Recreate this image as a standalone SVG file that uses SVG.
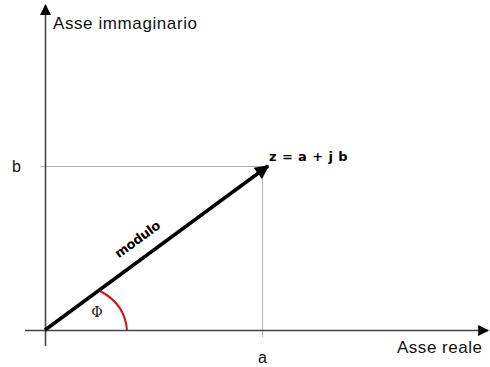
<svg xmlns="http://www.w3.org/2000/svg" width="490" height="367" viewBox="0 0 490 367">
<style>
.t{font-family:"Liberation Sans",Arial,sans-serif;fill:#111}
.b{font-family:"DejaVu Sans",Verdana,sans-serif;font-weight:bold;fill:#000}
.axis{stroke:#444;stroke-width:1.6;fill:none}
.guide{stroke:#b0b0b0;stroke-width:1;fill:none}
</style>
<defs>
<marker id="ah" viewBox="0 0 10 10" refX="9" refY="5" markerWidth="13" markerHeight="11" markerUnits="userSpaceOnUse" orient="auto"><path d="M0,0 L10,5 L0,10 Z" fill="#000"/></marker>
<marker id="vh" viewBox="0 0 10 10" refX="9" refY="5" markerWidth="16" markerHeight="14" markerUnits="userSpaceOnUse" orient="auto"><path d="M0,0 L10,5 L0,10 Z" fill="#000"/></marker>
</defs>
<rect width="490" height="367" fill="#fff"/>
<g id="connectors">
<line class="guide" x1="40" y1="166.5" x2="264" y2="166.5"/>
<line class="guide" x1="262.5" y1="170" x2="262.5" y2="337"/>
<line id="x-axis" class="axis" x1="25" y1="330.5" x2="488" y2="330.5" marker-end="url(#ah)"/>
<line id="y-axis" class="axis" x1="45.5" y1="346" x2="45.5" y2="5" marker-end="url(#ah)"/>
<line id="vector" x1="45" y1="330" x2="268" y2="166" stroke="#000" stroke-width="3.5" marker-end="url(#vh)"/>
<path id="angle" d="M100,291 Q125,304 127,330" fill="none" stroke="#d0141c" stroke-width="2"/>
</g>
<g id="labels">
<text class="t" x="53" y="29" font-size="17" textLength="144">Asse immaginario</text>
<text class="t" x="397" y="353" font-size="17" textLength="85">Asse reale</text>
<text class="t" x="258" y="363" font-size="16">a</text>
<text class="t" x="12" y="172" font-size="16">b</text>
<text class="b" x="269" y="161" font-size="13" letter-spacing="0.4">z = a + j b</text>
<text class="b" x="0" y="0" font-size="13" letter-spacing="-0.3" text-anchor="middle" transform="translate(140,243) rotate(-36)">modulo</text>
<text x="97" y="317" font-size="14" text-anchor="middle" font-family="'DejaVu Serif','Liberation Serif',serif" fill="#222">Φ</text>
</g>
</svg>
